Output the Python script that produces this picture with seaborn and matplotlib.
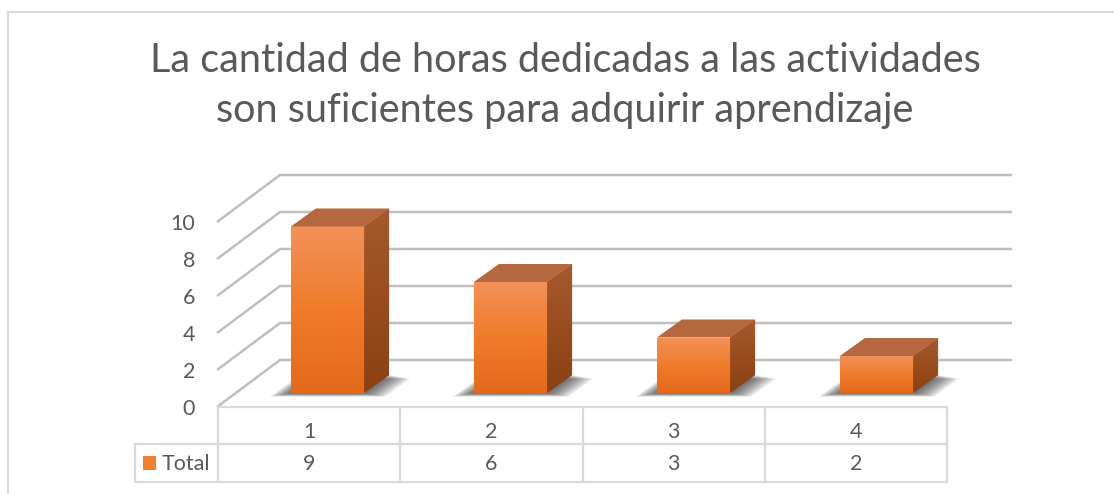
import numpy as np
import pandas as pd
import matplotlib
matplotlib.use("Agg")
import matplotlib.pyplot as plt
import seaborn as sns
from matplotlib.patches import Polygon, Rectangle
from matplotlib.colors import LinearSegmentedColormap

# ---------------- data ----------------
title_lines = ["La cantidad de horas dedicadas a las actividades",
               "son suficientes para adquirir aprendizaje"]
categories = ["1", "2", "3", "4"]
values = [9, 6, 3, 2]
series_name = "Total"
y_ticks = [0, 2, 4, 6, 8, 10]

sns.set_theme(style="white")
plt.rcParams['font.family'] = ['Lato', 'DejaVu Sans']

W, H = 1114, 494
fig = plt.figure(figsize=(W / 100, H / 100), dpi=100)
fig.patch.set_facecolor('white')

# ---------------- layout (pixels from top-left) ----------------
X0, DX = 327.5, 183.0          # centre of first category, category pitch
Y0, PU = 393.0, 18.5           # value-0 line of the bar plane, px per unit
DEPTH_X, DEPTH_Y = 25.0, 18.0  # bar depth offset
WALL_FX, WALL_BX = 217.0, 280.0
FLOOR_FRONT, FLOOR_BACK = 407.0, 360.0
WALL_RIGHT = 1012.0
TABLE_COLS = [218, 400.25, 582.5, 764.75, 947]
TABLE_ROWS = [407, 444, 482]
LEG_LEFT = 135

TEXT = '#595959'
GRID = '#BFBFBF'
TABLE = '#D9D9D9'
TICK_FS = 15.5
TITLE_FS = 28.5

bg = fig.add_axes([0, 0, 1, 1], zorder=0)
bg.set_xlim(0, W)
bg.set_ylim(H, 0)
bg.axis('off')

# chart border
bg.plot([8, W], [12, 12], color=TABLE, lw=1.5)
bg.plot([8, 8], [12, H], color=TABLE, lw=1.5)

# title
bg.text(565, 72, title_lines[0], ha='center', va='baseline', fontsize=TITLE_FS, color=TEXT)
bg.text(565, 122, title_lines[1], ha='center', va='baseline', fontsize=TITLE_FS, color=TEXT)

# walls / gridlines and value axis labels
for v in y_ticks:
    yf = FLOOR_FRONT - PU * v
    yb = FLOOR_BACK - PU * v
    bg.plot([WALL_FX, WALL_BX, WALL_RIGHT], [yf, yb, yb], color=GRID, lw=1.8,
            solid_joinstyle='miter', solid_capstyle='butt')
    bg.text(WALL_FX - 22, yf + 8, str(v), ha='right', va='baseline', fontsize=TICK_FS, color=TEXT)

# data table
bg.plot([TABLE_COLS[0], TABLE_COLS[-1]], [TABLE_ROWS[0]] * 2, color=TABLE, lw=1.6)
bg.plot([LEG_LEFT, TABLE_COLS[-1]], [TABLE_ROWS[1]] * 2, color=TABLE, lw=1.6)
bg.plot([LEG_LEFT, TABLE_COLS[-1]], [TABLE_ROWS[2]] * 2, color=TABLE, lw=1.6)
for cx in TABLE_COLS:
    bg.plot([cx, cx], [TABLE_ROWS[0], TABLE_ROWS[2]], color=TABLE, lw=1.6)
bg.plot([LEG_LEFT, LEG_LEFT], [TABLE_ROWS[1], TABLE_ROWS[2]], color=TABLE, lw=1.6)
for i, (c, v) in enumerate(zip(categories, values)):
    cx = (TABLE_COLS[i] + TABLE_COLS[i + 1]) / 2
    bg.text(cx, 438, c, ha='center', va='baseline', fontsize=TICK_FS, color=TEXT)
    bg.text(cx, 470, str(v), ha='center', va='baseline', fontsize=TICK_FS, color=TEXT)
bg.add_patch(Rectangle((143, 456), 13, 14, facecolor='#F07F30', edgecolor='none'))
bg.text(162, 470, series_name, ha='left', va='baseline', fontsize=TICK_FS, color=TEXT)

# ---------------- bars ----------------
ax = fig.add_axes([0, 0, 1, 1], zorder=2)
ax.patch.set_alpha(0)
df = pd.DataFrame({'categoria': categories, 'valor': values})
sns.barplot(data=df, x='categoria', y='valor', color='#F07F30', saturation=1,
            width=0.4, edgecolor='none', ax=ax, zorder=3)

front_cmap = LinearSegmentedColormap.from_list('front', ['#E4691B', '#F07C2B', '#F3915A'])
side_cmap = LinearSegmentedColormap.from_list('side', ['#8A4114', '#9A4C1E', '#A55A2F'])
grad = np.linspace(0, 1, 256).reshape(-1, 1)

ddx = DEPTH_X / DX
ddy = DEPTH_Y / PU
for p in list(ax.patches):
    x, w, h = p.get_x(), p.get_width(), p.get_height()
    # soft shadow on the floor
    for k in range(1, 9):
        e = k * 2.6 / DX
        ev = k * 0.45 / PU
        shadow = Polygon([(x - e, -ev), (x + w + e, -ev), (x + w + ddx + e, ddy - ev),
                          (x + ddx - e, ddy - ev)], closed=True, facecolor='#222222',
                         edgecolor='none', alpha=0.11, zorder=1)
        ax.add_patch(shadow)
    # front gradient
    im = ax.imshow(grad, origin='lower', extent=[x, x + w, 0, h], cmap=front_cmap,
                   aspect='auto', zorder=4, interpolation='bilinear')
    im.set_clip_path(p)
    # side face
    side = Polygon([(x + w, 0), (x + w + ddx, ddy), (x + w + ddx, h + ddy), (x + w, h)],
                   closed=True, facecolor='#99491C', edgecolor='none', zorder=3)
    ax.add_patch(side)
    ims = ax.imshow(grad, origin='lower', extent=[x + w, x + w + ddx, 0, h + ddy],
                    cmap=side_cmap, aspect='auto', zorder=4, interpolation='bilinear')
    ims.set_clip_path(side)
    # top face
    top = Polygon([(x, h), (x + ddx, h + ddy), (x + w + ddx, h + ddy), (x + w, h)],
                  closed=True, facecolor='#B5673F', edgecolor='none', zorder=4)
    ax.add_patch(top)

ax.set_xlim(-X0 / DX, (W - X0) / DX)
ax.set_ylim(-(H - Y0) / PU, Y0 / PU)
ax.axis('off')

fig.savefig('out.png', dpi=100, facecolor='white')
